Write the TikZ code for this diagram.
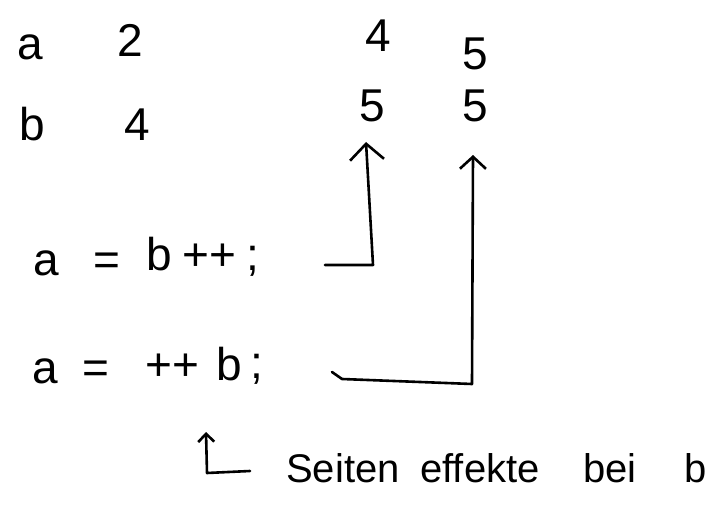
\documentclass[tikz,border=0pt]{standalone}
\usepackage{fontspec}
\setmainfont{Liberation Sans}
\usetikzlibrary{arrows.meta}
\begin{document}
\begin{tikzpicture}[x=1pt,y=-1pt,
  hw/.style={font=\fontsize{46}{52}\selectfont, inner sep=0pt, anchor=base},
  hws/.style={font=\fontsize{40}{46}\selectfont, inner sep=0pt, anchor=base},
  con/.style={line width=2.6pt, line cap=round, line join=round},
  tipbig/.style={-{Straight Barb[length=16pt,width=34pt]}},
  tipmid/.style={-{Straight Barb[length=12pt,width=26pt]}},
  tipsmall/.style={-{Straight Barb[length=8pt,width=16pt]}}]
\useasboundingbox[fill=white] (0,0) rectangle (720,508);
% table
\node[hw] (a1) at (30,60) {a};
\node[hw] (v2) at (130,57) {2};
\node[hw] (b1) at (32,140) {b};
\node[hw] (v4) at (137,140) {4};
\node[hw] (t4) at (378,52) {4};
\node[hw] (t5) at (475,70) {5};
\node[hw] (u5a) at (372,122) {5};
\node[hw] (u5b) at (475,122) {5};
% line 1
\node[hw] (l1a) at (46,275) {a};
\node[hw] (l1e) at (107,275) {=};
\node[hw] (l1b) at (159,270) {b};
\node[hw] (l1p) at (209,270) {++};
\node[hw] (l1s) at (253,270) {;};
% line 2
\node[hw] (l2a) at (45,383) {a};
\node[hw] (l2e) at (96,383) {=};
\node[hw] (l2p) at (172,380) {++};
\node[hw] (l2b) at (229,380) {b};
\node[hw] (l2s) at (257,378) {;};
% bottom note
\node[hws] (w1) at (343,482) {Seiten};
\node[hws] (w2) at (480,482) {effekte};
\node[hws] (w3) at (610,482) {bei};
\node[hws] (w4) at (696,482) {b};
% connectors
\coordinate (s1) at (325,265);
\coordinate (c1) at (373,265);
\coordinate (e1) at (366,142);
\draw[con,tipbig] (s1) -- (c1) -- (e1);
\coordinate (s2) at (332,372);
\coordinate (c2) at (472,384);
\coordinate (e2) at (473,155);
\draw[con,tipmid] (s2) -- (342,379) -- (c2) -- (e2);
\coordinate (s3) at (250,471);
\coordinate (c3) at (207,473);
\coordinate (e3) at (206,432);
\draw[con,tipsmall] (s3) -- (c3) -- (e3);
\end{tikzpicture}
\end{document}
